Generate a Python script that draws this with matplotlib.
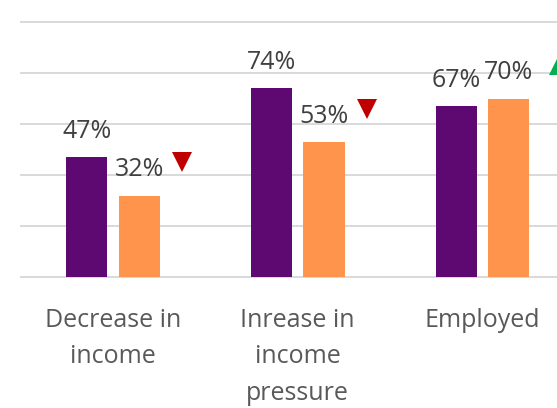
import numpy as np
import matplotlib
matplotlib.use("Agg")
import matplotlib.pyplot as plt

plt.rcParams['font.family'] = ['Open Sans', 'DejaVu Sans']

# survey outcomes, earlier wave vs later wave (percent)
categories = ["Decrease in\nincome", "Inrease in\nincome\npressure", "Employed"]
wave_before = [47, 74, 67]
wave_after = [32, 53, 70]
change_dir = ["down", "down", "up"]

PURPLE = "#5E0971"
ORANGE = "#FF944D"
GRID = "#D9D9D9"
LABEL = "#404040"
TICK = "#595959"

fig = plt.figure(figsize=(5.57, 4.08), dpi=100)
# plot area runs a little past the right edge of the image
ax = fig.add_axes([0.0371, 0.3203, 0.9948, 0.6257])

x = np.arange(len(categories))
w = 0.223
off = 0.142

b1 = ax.bar(x - off, wave_before, w, color=PURPLE, zorder=3)
b2 = ax.bar(x + off, wave_after, w, color=ORANGE, zorder=3)

for bars, vals in ((b1, wave_before), (b2, wave_after)):
    for rect, v in zip(bars, vals):
        ax.annotate(f"{v}%", (rect.get_x() + rect.get_width() / 2, v),
                    xytext=(0, 14), textcoords="offset points",
                    ha="center", va="baseline", fontsize=18, color=LABEL,
                    zorder=5)

# arrows showing direction of change next to the later-wave label
marker_dx = [30.5, 31, 36]
for i, (v, d) in enumerate(zip(wave_after, change_dir)):
    mk = "v" if d == "down" else "^"
    col = "#C00000" if d == "down" else "#00B050"
    ax.plot([x[i] + off], [v], marker=mk, markersize=14.4, color=col,
            markeredgewidth=0, linestyle="none", clip_on=False, zorder=5,
            transform=ax.transData + matplotlib.transforms.ScaledTranslation(
                marker_dx[i] / 72, 24 / 72, fig.dpi_scale_trans))

ax.set_xlim(-0.5, 2.5)
ax.set_ylim(0, 100)
ax.set_yticks(np.arange(0, 101, 20))
ax.yaxis.grid(True, color=GRID, linewidth=1.4, zorder=0)
for gl in ax.get_ygridlines():
    gl.set_clip_on(False)
ax.tick_params(axis="y", left=False, labelleft=False)

ax.set_xticks(x)
ax.set_xticklabels(categories, fontsize=18, color=TICK, linespacing=1.6)
ax.tick_params(axis="x", length=0, pad=22)

for s in ax.spines.values():
    s.set_visible(False)

fig.savefig("out.png", dpi=100)
